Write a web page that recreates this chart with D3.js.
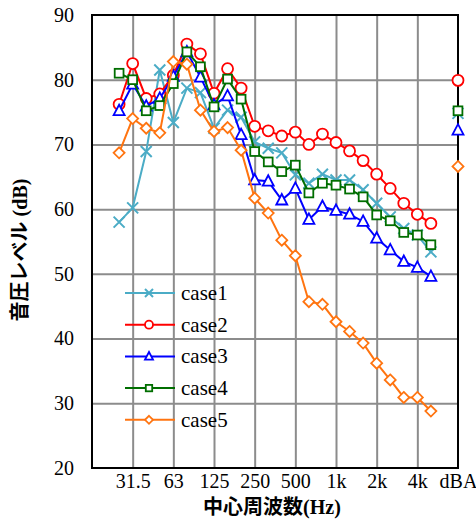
<!DOCTYPE html>
<html>
<head>
<meta charset="utf-8">
<script src="https://cdn.jsdelivr.net/npm/d3@7"></script>
<style>
  html, body { margin: 0; padding: 0; background: #fff; }
  svg { display: block; }
</style>
</head>
<body>
<svg id="chart" width="476" height="521"></svg>
<script>
// 1/3-octave band centre frequencies (Hz)
const bands = ["25","31.5","40","50","63","80","100","125","160","200","250","315","400","500",
               "630","800","1k","1.25k","1.6k","2k","2.5k","3.15k","4k","5k"];
// octave tick labels along the x axis
const tickLabels = ["31.5","63","125","250","500","1k","2k","4k","dBA"];
const yTicks = [20,30,40,50,60,70,80,90];

// Sound pressure level per band (dB), and overall A-weighted level
const case1 = [58.0,60.2,68.9,81.5,73.4,78.7,78.0,72.5,75.3,74.2,70.4,69.4,68.7,65.3,64.0,65.4,64.5,64.5,63.0,60.9,58.8,57.0,56.0,53.4];
const case2 = [76.2,82.5,77.1,77.8,80.7,85.5,84.0,77.9,81.7,78.7,72.8,72.1,71.3,71.9,70.0,71.6,70.3,69.0,67.5,65.4,63.2,60.9,59.2,57.8];
const case3 = [75.2,79.3,75.9,77.1,80.5,84.3,80.4,76.1,77.5,71.5,64.5,64.3,61.4,63.2,58.4,60.4,59.8,59.2,58.1,55.5,53.7,51.9,51.0,49.6];
const case4 = [81.0,80.0,75.2,76.0,79.4,84.3,82.0,75.8,80.1,77.0,68.9,67.3,65.8,66.8,62.5,64.0,63.7,63.1,61.9,59.1,58.2,56.4,56.0,54.5];
const case5 = [68.7,74.0,72.5,71.8,82.8,82.4,75.3,72.0,72.6,69.1,61.7,59.4,55.2,52.8,45.7,45.3,42.6,41.1,39.3,36.2,33.6,30.9,30.9,28.8];
const dBA   = [74.8,79.9,72.2,75.2,66.6];

const seriesNames = ["case1","case2","case3","case4","case5"];
const seriesData = [case1, case2, case3, case4, case5];
const colors = ["#4bacc6","#ff0000","#0000ff","#006e00","#ff7410"];
const markers = ["cross","circle","triangle","square","diamond"];

const SERIF = "font-family: 'Liberation Serif', 'Times New Roman', serif";
const JP = "font-family: 'Noto Sans CJK JP', sans-serif";

const svg = d3.select("#chart");
const L = 92, R = 458, T = 15, B = 468;

// x positions measured in thirds of an octave; 25 Hz sits at 2, dBA at 27
const x = d3.scaleLinear().domain([0, 27]).range([L, R]);
const bandPos = i => 2 + i;
const y = d3.scaleLinear().domain([20, 90]).range([B, T]);

const gridColor = "#8c8c8c";

// horizontal grid
svg.append("g")
  .attr("transform", `translate(${L},0)`)
  .call(d3.axisLeft(y).tickValues(yTicks.slice(1, -1)).tickSize(-(R - L)).tickFormat(""))
  .call(g => g.select(".domain").remove())
  .call(g => g.selectAll("line").attr("stroke", gridColor).attr("stroke-width", 2));

// vertical grid at octave labels
svg.append("g")
  .attr("transform", `translate(0,${B})`)
  .call(d3.axisBottom(x).tickValues(d3.range(3, 27, 3)).tickSize(-(B - T)).tickFormat(""))
  .call(g => g.select(".domain").remove())
  .call(g => g.selectAll("line").attr("stroke", gridColor).attr("stroke-width", 2));

// plot frame
svg.append("rect")
  .attr("x", L).attr("y", T).attr("width", R - L).attr("height", B - T)
  .attr("fill", "none").attr("stroke", "#000").attr("stroke-width", 2);

// y tick labels
svg.append("g")
  .attr("transform", `translate(${L},0)`)
  .call(d3.axisLeft(y).tickValues(yTicks).tickSize(0).tickPadding(18))
  .call(g => g.select(".domain").remove())
  .call(g => g.selectAll("text").attr("style", SERIF)
    .attr("font-size", 20).attr("fill", "#000"));

// x tick labels
svg.append("g")
  .attr("transform", `translate(0,${B})`)
  .call(d3.axisBottom(x).tickValues(d3.range(3, 28, 3)).tickSize(0).tickPadding(6)
        .tickFormat((d, i) => tickLabels[i]))
  .call(g => g.select(".domain").remove())
  .call(g => g.selectAll("text").attr("style", SERIF)
    .attr("font-size", 20).attr("fill", "#000"));

// axis titles
const xt = svg.append("text")
  .attr("x", 272).attr("y", 514).attr("text-anchor", "middle")
  .attr("font-weight", "bold").attr("font-size", 20).attr("fill", "#000");
xt.append("tspan").attr("style", JP).text("中心周波数");
xt.append("tspan").attr("style", SERIF).text("(Hz)");

const yt = svg.append("text")
  .attr("transform", "translate(27,250) rotate(-90)").attr("text-anchor", "middle")
  .attr("font-weight", "bold").attr("font-size", 20).attr("fill", "#000");
yt.append("tspan").attr("style", JP).text("音圧レベル");
yt.append("tspan").attr("style", SERIF).text(" (dB)");

// marker drawing
function drawMarker(g, type, color, s) {
  const sw = 1.8;
  if (type === "cross") {
    g.append("path").attr("d", `M${-s},${-s}L${s},${s}M${-s},${s}L${s},${-s}`)
      .attr("stroke", color).attr("stroke-width", 2).attr("fill", "none");
  } else if (type === "circle") {
    g.append("circle").attr("r", s).attr("fill", "#fff").attr("stroke", color).attr("stroke-width", sw);
  } else if (type === "triangle") {
    g.append("path").attr("d", `M0,${-s * 1.1}L${s},${s * 0.8}L${-s},${s * 0.8}Z`)
      .attr("fill", "#fff").attr("stroke", color).attr("stroke-width", sw);
  } else if (type === "square") {
    const h = s * 0.8;
    g.append("rect").attr("x", -h).attr("y", -h).attr("width", 2 * h).attr("height", 2 * h)
      .attr("fill", "#fff").attr("stroke", color).attr("stroke-width", sw);
  } else if (type === "diamond") {
    g.append("path").attr("d", `M0,${-s}L${s},0L0,${s}L${-s},0Z`)
      .attr("fill", "#fff").attr("stroke", color).attr("stroke-width", sw);
  }
}

const line = d3.line().x((d, i) => x(bandPos(i))).y(d => y(d));

// draw series in order so later cases sit on top
seriesData.forEach((vals, k) => {
  const g = svg.append("g");
  g.append("path").datum(vals).attr("d", line)
    .attr("fill", "none").attr("stroke", colors[k]).attr("stroke-width", 2);
  vals.forEach((v, i) => {
    const m = g.append("g").attr("transform", `translate(${x(bandPos(i))},${y(v)})`);
    drawMarker(m, markers[k], colors[k], 5.5);
  });
});

// overall A-weighted levels on the right edge
dBA.forEach((v, k) => {
  const m = svg.append("g").attr("transform", `translate(${x(27)},${y(v)})`);
  drawMarker(m, markers[k], colors[k], 5.5);
});

// legend
const legend = svg.append("g");
seriesNames.forEach((name, k) => {
  const ly = 293 + k * 31.7;
  legend.append("line").attr("x1", 125).attr("x2", 175).attr("y1", ly).attr("y2", ly)
    .attr("stroke", colors[k]).attr("stroke-width", 2);
  const m = legend.append("g").attr("transform", `translate(149,${ly})`);
  drawMarker(m, markers[k], colors[k], 4);
  legend.append("text").attr("x", 181).attr("y", ly + 7)
    .attr("style", SERIF).attr("font-size", 21)
    .attr("fill", "#000").text(name);
});
</script>
</body>
</html>
